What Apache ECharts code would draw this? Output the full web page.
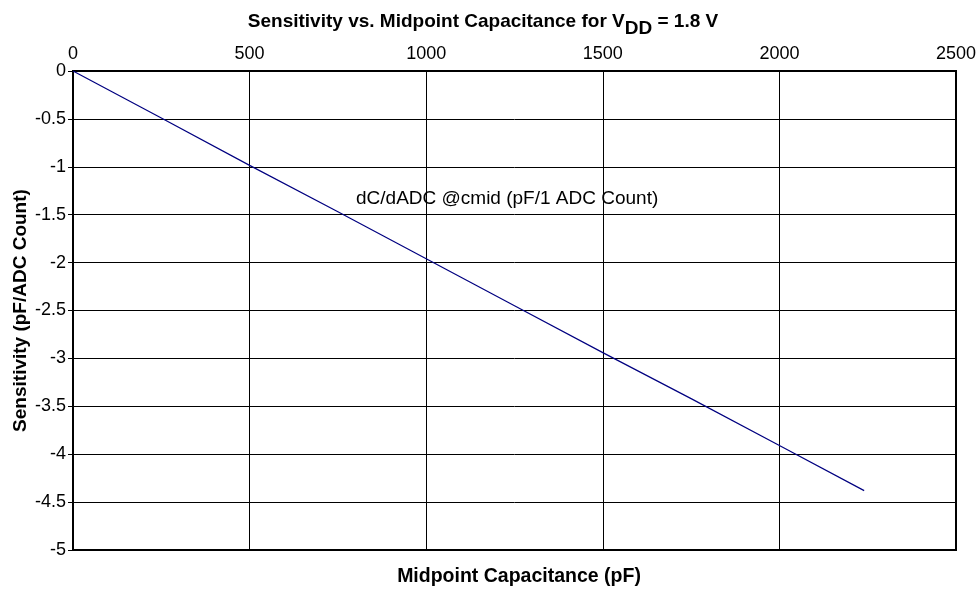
<!DOCTYPE html>
<html>
<head>
<meta charset="utf-8">
<script src="https://cdn.jsdelivr.net/npm/echarts@6/dist/echarts.min.js"></script>
<style>html,body{margin:0;padding:0;background:#fff}#c{width:976px;height:591px}</style>
</head>
<body>
<div id="c"></div>
<script>
const capacitance = [0, 250, 500, 750, 1000, 1250, 1500, 1750, 2000, 2240];
const sensitivity = [0, -0.49, -0.985, -1.47, -1.96, -2.45, -2.94, -3.42, -3.91, -4.38];
const xTicks = [0, 500, 1000, 1500, 2000, 2500];
const yTicks = [0, -0.5, -1, -1.5, -2, -2.5, -3, -3.5, -4, -4.5, -5];
const titleMain = 'Sensitivity vs. Midpoint Capacitance for V';
const titleSub = 'DD';
const titleTail = ' = 1.8 V';
const xName = 'Midpoint Capacitance (pF)';
const yName = 'Sensitivity (pF/ADC Count)';
const seriesName = 'dC/dADC @cmid (pF/1 ADC Count)';

const FONT = 'Liberation Sans, Arial, sans-serif';
const chart = echarts.init(document.getElementById('c'));
chart.setOption({
  backgroundColor: '#fff',
  animation: false,
  title: {
    text: '{a|' + titleMain + '}{b|' + titleSub + '}{a|' + titleTail + '}',
    left: 478, textAlign: 'center', top: 7,
    textStyle: {
      rich: {
        a: {fontFamily: FONT, fontWeight: 'bold', fontSize: 19, color: '#000', verticalAlign: 'top', lineHeight: 28},
        b: {fontFamily: FONT, fontWeight: 'bold', fontSize: 19, color: '#000', verticalAlign: 'top', lineHeight: 28, padding: [7, 0, 0, 0]}
      }
    }
  },
  grid: {left: 73, right: 20, top: 71, bottom: 41, outerBoundsMode: 'none', containLabel: false, show: true, borderColor: '#000', borderWidth: 2, backgroundColor: '#fff'},
  xAxis: {
    type: 'value', position: 'top', min: xTicks[0], max: xTicks[xTicks.length - 1], interval: 500,
    axisLine: {show: true, lineStyle: {color: '#000', width: 2}},
    axisTick: {show: false},
    axisLabel: {fontFamily: FONT, fontSize: 18, color: '#000', margin: 8, formatter: v => String(v)},
    splitLine: {show: true, lineStyle: {color: '#000', width: 1}}
  },
  yAxis: {
    type: 'value', min: yTicks[yTicks.length - 1], max: yTicks[0], interval: 0.5,
    name: yName, nameLocation: 'middle', nameGap: 43, nameMoveOverlap: false,
    nameTextStyle: {fontFamily: FONT, fontWeight: 'bold', fontSize: 19, color: '#000'},
    axisLine: {show: true, lineStyle: {color: '#000', width: 2}},
    axisTick: {show: true, length: 5, lineStyle: {color: '#000'}},
    axisLabel: {fontFamily: FONT, fontSize: 18, color: '#000', margin: 7, formatter: v => String(v)},
    splitLine: {show: true, lineStyle: {color: '#000', width: 1}}
  },
  series: [{
    name: seriesName, type: 'line', showSymbol: false, symbol: 'none',
    data: capacitance.map((c, i) => [c, sensitivity[i]]),
    lineStyle: {color: '#000080', width: 1.2},
    z: 5
  }],
  graphic: [
    {type: 'text', x: 356, y: 189, style: {text: seriesName, font: '19px ' + FONT, fill: '#000'}},
    {type: 'text', x: 519, y: 567, style: {text: xName, font: 'bold 19.5px ' + FONT, fill: '#000', align: 'center', textAlign: 'center'}}
  ]
});
</script>
</body>
</html>
